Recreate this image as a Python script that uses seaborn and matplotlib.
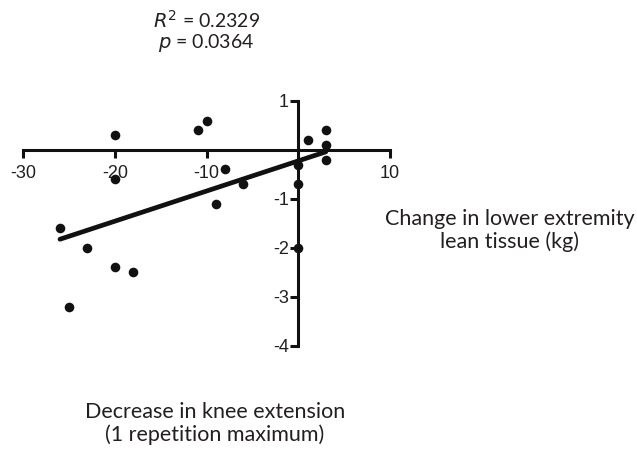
import matplotlib
matplotlib.use("Agg")
import matplotlib.pyplot as plt
import seaborn as sns
import pandas as pd

# decrease in knee extension (1RM) vs change in lower extremity lean tissue (kg)
knee_ext = [-20, -11, -10, 1, 3, 3, 3, 0, 0, -8, -20, -6, -9, -26, -23, 0, -20, -18, -25]
lean_tissue = [0.3, 0.4, 0.6, 0.2, 0.4, 0.1, -0.2, -0.3, -0.7, -0.4, -0.6, -0.7, -1.1, -1.6, -2.0, -2.0, -2.4, -2.5, -3.2]

x_ticks = [-30, -20, -10, 10]
y_ticks = [1, -1, -2, -3, -4]

df = pd.DataFrame({"knee": knee_ext, "lean": lean_tissue})

sns.set_style("white")
plt.rcParams["font.family"] = ["Liberation Sans", "DejaVu Sans"]
label_font = ["Lato", "DejaVu Sans"]
txt_color = "#231f20"

fig = plt.figure(figsize=(6.37, 4.5), dpi=100)
ax = fig.add_axes([0.0366, 0.2318, 0.5757, 0.5438])

sns.regplot(data=df, x="knee", y="lean", ax=ax, ci=None, truncate=True,
            scatter_kws=dict(s=48, color="#111111", alpha=1, linewidths=0, clip_on=False),
            line_kws=dict(color="#111111", lw=3.4))

ax.set_xlim(-30, 10)
ax.set_ylim(-4, 1)
for side in ["top", "right"]:
    ax.spines[side].set_visible(False)
ax.spines["left"].set_position(("data", 0))
ax.spines["bottom"].set_position(("data", 0))
for side in ["left", "bottom"]:
    ax.spines[side].set_linewidth(2.2)
    ax.spines[side].set_color("#111111")

ax.set_xticks(x_ticks)
ax.set_xticklabels([str(t) for t in x_ticks])
ax.set_yticks(y_ticks)
ax.set_yticklabels([str(t) for t in y_ticks])
ax.tick_params(axis="both", direction="out", length=6, width=2.2, color="#111111",
               labelsize=13, labelcolor=txt_color, bottom=True, left=True)
ax.tick_params(axis="x", pad=5)
ax.tick_params(axis="y", pad=1)
ax.set_xlabel("")
ax.set_ylabel("")

fig.text(0.324, 0.955, r"$\it{R}^2$ = 0.2329", ha="center", va="center",
         fontsize=14, family=label_font, color=txt_color)
fig.text(0.324, 0.905, r"$\it{p}$ = 0.0364", ha="center", va="center",
         fontsize=14, family=label_font, color=txt_color)
fig.text(0.80, 0.487, "Change in lower extremity\nlean tissue (kg)", ha="center", va="center",
         fontsize=15.5, family=label_font, color=txt_color, linespacing=1.15)
fig.text(0.337, 0.058, "Decrease in knee extension\n(1 repetition maximum)", ha="center", va="center",
         fontsize=15.5, family=label_font, color=txt_color, linespacing=1.15)

fig.savefig("out.png", dpi=100)
